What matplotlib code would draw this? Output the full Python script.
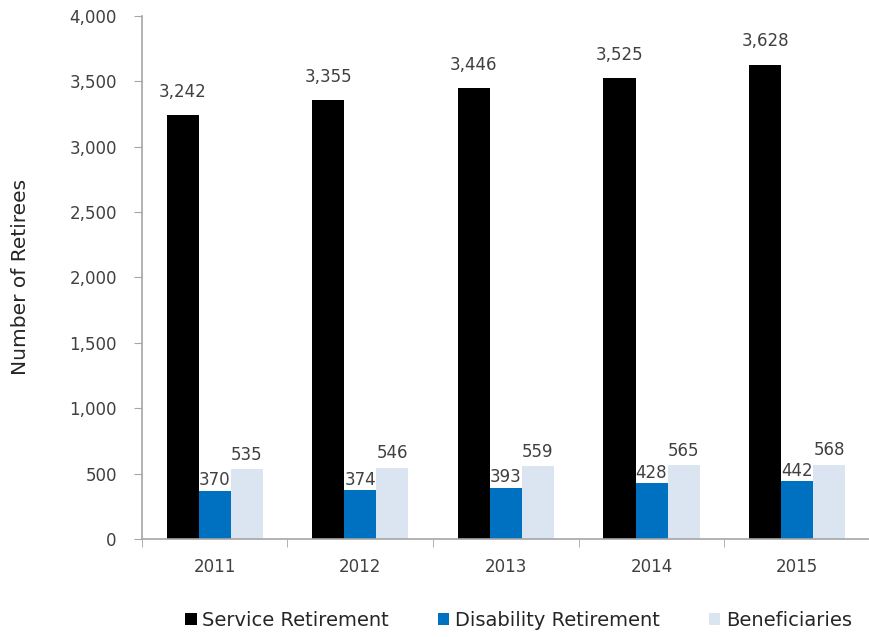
import numpy as np
import matplotlib.pyplot as plt
from matplotlib.ticker import FuncFormatter

jaren = ['2011', '2012', '2013', '2014', '2015']
service = [3242, 3355, 3446, 3525, 3628]
disability = [370, 374, 393, 428, 442]
beneficiaries = [535, 546, 559, 565, 568]

tekstkleur = '#404040'
plt.rcParams['font.family'] = ['DejaVu Sans']

fig = plt.figure(figsize=(8.7, 6.37), dpi=100)
ax = fig.add_axes([0.163, 0.154, 0.837, 0.821])

x = np.arange(len(jaren))
w = 0.22

b1 = ax.bar(x - w, service, w, color='black', label='Service Retirement')
b2 = ax.bar(x, disability, w, color='#0070C0', label='Disability Retirement')
b3 = ax.bar(x + w, beneficiaries, w, color='#DBE5F1', label='Beneficiaries')

# data labels
for i in range(len(jaren)):
    ax.text(x[i] - w, service[i] + 110, f'{service[i]:,}', ha='center', va='bottom',
            fontsize=12, color=tekstkleur)
    ax.text(x[i], disability[i] + 10, f'{disability[i]:,}', ha='center', va='bottom',
            fontsize=12, color=tekstkleur)
    ax.text(x[i] + w, beneficiaries[i] + 40, f'{beneficiaries[i]:,}', ha='center', va='bottom',
            fontsize=12, color=tekstkleur)

ax.set_ylim(0, 4000)
ax.set_xlim(-0.5, 4.45)
ax.set_yticks(np.arange(0, 4001, 500))
ax.yaxis.set_major_formatter(FuncFormatter(lambda v, p: f'{int(v):,}'))

# jaartallen in het midden, tickstreepjes tussen de groepen
ax.set_xticks(x)
ax.set_xticklabels(jaren)
ax.set_xticks(np.arange(-0.5, 5, 1), minor=True)
ax.tick_params(axis='x', which='major', length=0, pad=14, labelsize=12, labelcolor=tekstkleur)
ax.tick_params(axis='x', which='minor', length=6, direction='out', color='#A6A6A6')
ax.tick_params(axis='y', length=6, color='#A6A6A6', labelsize=12, labelcolor=tekstkleur, pad=12)

for s in ['top', 'right']:
    ax.spines[s].set_visible(False)
for s in ['left', 'bottom']:
    ax.spines[s].set_color('#A6A6A6')
    ax.spines[s].set_linewidth(1.2)

ax.set_ylabel('Number of Retirees', fontsize=14.5, color='#262626')
ax.yaxis.set_label_coords(-0.153, 0.5)

fig.legend(handles=[b1, b2, b3], loc='center', bbox_to_anchor=(0.596, 0.026), ncol=3,
           frameon=False, fontsize=14, handlelength=0.6, handleheight=0.6,
           handletextpad=0.3, columnspacing=2.5, labelcolor='#262626')

plt.savefig('out.png', dpi=100)
